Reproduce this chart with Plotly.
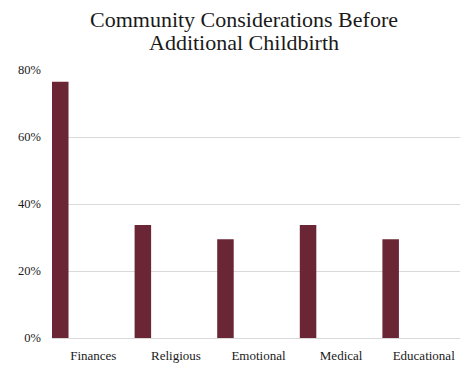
import plotly.graph_objects as go

categories = ["Finances", "Religious", "Emotional", "Medical", "Educational"]
values = [76.5, 33.7, 29.5, 33.7, 29.5]
y_ticks = [0, 20, 40, 60, 80]
y_tick_labels = ["0%", "20%", "40%", "60%", "80%"]
title_lines = ["Community Considerations Before", "Additional Childbirth"]

fig = go.Figure()
fig.add_trace(go.Bar(
    x=categories, y=values,
    width=0.2, offset=-0.5,
    marker=dict(color="#6b2636", line=dict(width=0)),
))

serif = "Liberation Serif, Times New Roman, serif"
# page body has an 8px margin, so the figure is offset by 8px
plot_top, plot_bottom = 62, 331.3
ph = plot_bottom - plot_top
def py(p):
    return (plot_bottom - p) / ph

for line, mid in zip(title_lines, [11, 34]):
    fig.add_annotation(
        text=line, xref="paper", yref="paper",
        x=(235 - 42) / (457.5 - 42), y=py(mid),
        xanchor="center", yanchor="middle", showarrow=False,
        font=dict(family=serif, size=22, color="#1a1a1a"),
    )

fig.update_layout(
    width=468, height=365,
    margin=dict(l=42, r=10.5, t=plot_top, b=365 - plot_bottom),
    paper_bgcolor="white", plot_bgcolor="white",
    showlegend=False,
    font=dict(family=serif, size=13, color="#1a1a1a"),
)
fig.update_xaxes(
    showgrid=False, showline=True, linecolor="#d9d9d9", linewidth=1,
    ticks="", tickfont=dict(family=serif, size=13, color="#1a1a1a"),
    ticklabelstandoff=5,
)
fig.update_yaxes(
    range=[0, 80], tickvals=y_ticks, ticktext=y_tick_labels,
    showgrid=True, gridcolor="#d9d9d9", gridwidth=1,
    zeroline=False, showline=False, ticks="",
    tickfont=dict(family=serif, size=12.5, color="#1a1a1a"),
    ticklabelstandoff=10,
)
fig.write_html("out.html")
